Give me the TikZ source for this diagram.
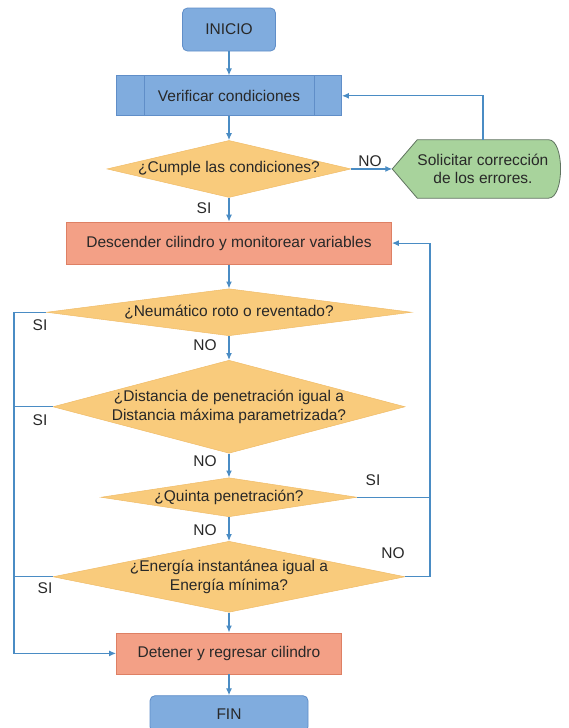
\documentclass[tikz,border=0pt]{standalone}
\usepackage{fontspec}
\setmainfont{Liberation Sans}
\usetikzlibrary{shapes.geometric, arrows.meta, positioning, backgrounds}

\definecolor{boxblue}{RGB}{128,172,222}
\definecolor{edgeblue}{RGB}{96,142,200}
\definecolor{flowline}{RGB}{74,140,196}
\definecolor{decfill}{RGB}{249,203,124}
\definecolor{decedge}{RGB}{240,188,105}
\definecolor{actfill}{RGB}{243,160,134}
\definecolor{actedge}{RGB}{222,128,100}
\definecolor{fixfill}{RGB}{168,211,156}
\definecolor{fixedge}{RGB}{95,115,95}
\definecolor{txtgray}{RGB}{40,40,40}

\begin{document}
\begin{tikzpicture}[
    x=1pt, y=1pt,
    node distance=24pt,
    font=\fontsize{15.5}{18.5}\selectfont, text=txtgray,
    terminal/.style={rectangle, rounded corners=5pt, minimum width=93pt, minimum height=43pt, draw=edgeblue, fill=boxblue, line width=0.8pt},
    predef/.style={rectangle, minimum width=225pt, minimum height=40pt, draw=edgeblue, fill=boxblue, line width=0.8pt},
    action/.style={rectangle, minimum height=42pt, draw=actedge, fill=actfill, line width=0.8pt},
    decision/.style={diamond, inner sep=0pt, fill=decfill, draw=decedge, line width=0.5pt},
    qtext/.style={align=center, inner sep=0pt},
    fixbox/.style={minimum width=130pt, minimum height=58pt, inner sep=0pt, align=center},
    lbl/.style={inner sep=1pt},
    flow/.style={draw=flowline, line width=1.2pt},
    arrow/.style={flow, -{Latex[length=7pt,width=6pt]}},
]
    \useasboundingbox (0,0) rectangle (568,-728);

    \node (inicio) [terminal] at (229,-29.5) {INICIO};
    \node (verif) [predef, below=of inicio] {Verificar condiciones};
    \node (cumple) [decision, minimum width=244pt, minimum height=57pt, below=of verif] {};
    \node (cumple-t) [qtext] at (cumple) {¿Cumple las condiciones?};
    \node (desc) [action, minimum width=325pt, below=of cumple] {Descender cilindro y monitorear variables};
    \node (neum) [decision, minimum width=365pt, minimum height=47pt, below=of desc] {};
    \node (neum-t) [qtext] at (neum) {¿Neumático roto o reventado?};
    \node (dist) [decision, minimum width=352pt, minimum height=93pt, below=of neum] {};
    \node (dist-t) [qtext] at (dist) {¿Distancia de penetración igual a\\Distancia máxima parametrizada?};
    \node (quinta) [decision, minimum width=256pt, minimum height=39pt, below=of dist] {};
    \node (quinta-t) [qtext] at (quinta) {¿Quinta penetración?};
    \node (energ) [decision, minimum width=352pt, minimum height=71pt, below=of quinta] {};
    \node (energ-t) [qtext] at (energ) {¿Energía instantánea igual a\\Energía mínima?};
    \node (stop) [action, minimum width=225pt, minimum height=41pt, below=20pt of energ] {Detener y regresar cilindro};
    \node (fin) [terminal, minimum width=158pt, minimum height=36pt, below=21pt of stop] {FIN};

    \node (fix) [fixbox, right=66pt of cumple] {Solicitar corrección\\de los errores.};
    \coordinate (fixtip) at ([xshift=-25pt]fix.west);
    \begin{scope}[on background layer]
        \draw [fill=fixfill, draw=fixedge, line width=0.8pt] (fixtip) -- (fix.north west) -- (fix.north east)
            .. controls +(16,0) and +(16,0) .. (fix.south east) -- (fix.south west) -- cycle;
    \end{scope}

    % inner bars of the predefined process
    \draw [draw=edgeblue, line width=0.8pt] ([xshift=28pt]verif.north west) -- ([xshift=28pt]verif.south west)
        ([xshift=-28pt]verif.north east) -- ([xshift=-28pt]verif.south east);

    \coordinate (lrail) at (14,0);
    \coordinate (rrail) at (430,0);

    \draw [arrow] (inicio) -- (verif);
    \draw [arrow] (verif) -- (cumple);
    \draw [arrow] (cumple) -- (desc);
    \draw [arrow] (desc) -- (neum);
    \draw [arrow] (neum) -- (dist);
    \draw [arrow] (dist) -- (quinta);
    \draw [arrow] (quinta) -- (energ);
    \draw [arrow] (energ) -- (stop);
    \draw [arrow] (stop) -- (fin);

    \draw [arrow] (cumple.east) -- (fixtip);
    \draw [arrow] (fix.north) |- (verif.east);

    \draw [arrow] (neum.west) -- (neum.west -| lrail) |- (stop.west);
    \draw [flow] (dist.west) -- (dist.west -| lrail);
    \draw [flow] (energ.west) -- (energ.west -| lrail);
    \draw [arrow] (energ.east) -- (energ.east -| rrail) |- (desc.east);
    \draw [flow] (quinta.east) -- (quinta.east -| rrail);

    \node (no1) [lbl] at (370,-161) {NO};
    \node (si1) [lbl] at (204,-208) {SI};
    \node (si2) [lbl] at (40,-325) {SI};
    \node (no2) [lbl] at (205,-345) {NO};
    \node (si3) [lbl] at (40,-420) {SI};
    \node (no3) [lbl] at (205,-461) {NO};
    \node (si4) [lbl] at (373,-480) {SI};
    \node (no4) [lbl] at (205,-530) {NO};
    \node (no5) [lbl] at (393,-553) {NO};
    \node (si5) [lbl] at (45,-588) {SI};

\end{tikzpicture}
\end{document}
